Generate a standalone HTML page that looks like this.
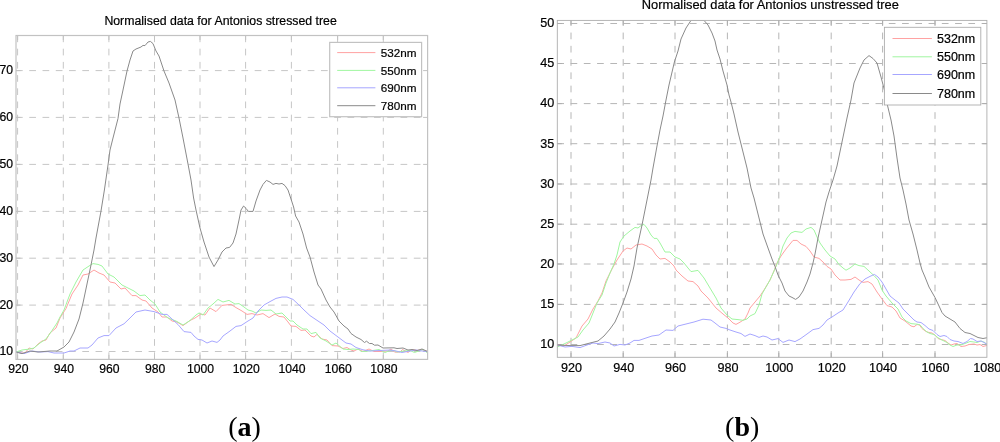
<!DOCTYPE html>
<html lang="en"><head><meta charset="utf-8"><title>Normalised data for Antonios stressed and unstressed tree</title>
<style>html,body{margin:0;padding:0;background:#fff;}body{width:1000px;height:442px;overflow:hidden;position:relative;}svg{position:absolute;left:0;top:0;display:block;}text{font-family:"Liberation Sans",Arial,sans-serif;fill:#000;stroke:#000;stroke-width:0.2px;}.L .t{font-size:12.2px;}.R .t{font-size:12.6px;}.L .lg{font-size:11.7px;}.R .lg{font-size:12.5px;}.L .ttl{font-size:12.3px;}.R .ttl{font-size:12.85px;}.cap{font-family:"Liberation Serif","Times New Roman",serif;font-size:28px;fill:#000;stroke:none;}.g{stroke-width:1;fill:none;}.bx{fill:none;}.c{fill:none;stroke-width:1;stroke-linejoin:round;stroke-linecap:round;}</style></head><body>
<svg width="1000" height="442" viewBox="0 0 1000 442">
<rect x="0" y="0" width="1000" height="442" fill="#fff"/>
<g class="L">
<clipPath id="cl"><rect x="16" y="35.5" width="411.6" height="323.9"/></clipPath>
<g>
<line class="g" stroke="#c6c6c6" stroke-dasharray="6.7 6.5" stroke-dashoffset="0.00" x1="17.6" y1="35.5" x2="17.6" y2="359.4"/>
<line class="g" stroke="#c6c6c6" stroke-dasharray="6.7 6.5" stroke-dashoffset="0.00" x1="63.3" y1="35.5" x2="63.3" y2="359.4"/>
<line class="g" stroke="#c6c6c6" stroke-dasharray="6.7 6.5" stroke-dashoffset="0.00" x1="108.9" y1="35.5" x2="108.9" y2="359.4"/>
<line class="g" stroke="#c6c6c6" stroke-dasharray="6.7 6.5" stroke-dashoffset="0.00" x1="154.5" y1="35.5" x2="154.5" y2="359.4"/>
<line class="g" stroke="#c6c6c6" stroke-dasharray="6.7 6.5" stroke-dashoffset="0.00" x1="200" y1="35.5" x2="200" y2="359.4"/>
<line class="g" stroke="#c6c6c6" stroke-dasharray="6.7 6.5" stroke-dashoffset="0.00" x1="245.6" y1="35.5" x2="245.6" y2="359.4"/>
<line class="g" stroke="#c6c6c6" stroke-dasharray="6.7 6.5" stroke-dashoffset="0.00" x1="291.4" y1="35.5" x2="291.4" y2="359.4"/>
<line class="g" stroke="#c6c6c6" stroke-dasharray="6.7 6.5" stroke-dashoffset="0.00" x1="337.6" y1="35.5" x2="337.6" y2="359.4"/>
<line class="g" stroke="#c6c6c6" stroke-dasharray="6.7 6.5" stroke-dashoffset="0.00" x1="383.3" y1="35.5" x2="383.3" y2="359.4"/>
<line class="g" stroke="#c6c6c6" stroke-dasharray="6.7 6.56" x1="16" y1="70.6" x2="427.6" y2="70.6"/>
<line class="g" stroke="#c6c6c6" stroke-dasharray="6.7 6.56" x1="16" y1="117.4" x2="427.6" y2="117.4"/>
<line class="g" stroke="#c6c6c6" stroke-dasharray="6.7 6.56" x1="16" y1="164.4" x2="427.6" y2="164.4"/>
<line class="g" stroke="#c6c6c6" stroke-dasharray="6.7 6.56" x1="16" y1="211.4" x2="427.6" y2="211.4"/>
<line class="g" stroke="#c6c6c6" stroke-dasharray="6.7 6.56" x1="16" y1="258.2" x2="427.6" y2="258.2"/>
<line class="g" stroke="#c6c6c6" stroke-dasharray="6.7 6.56" x1="16" y1="305.1" x2="427.6" y2="305.1"/>
<line class="g" stroke="#c6c6c6" stroke-dasharray="6.7 6.56" x1="16" y1="351.5" x2="427.6" y2="351.5"/>
<line stroke="#c2c2c2" stroke-width="1" x1="17.6" y1="354.9" x2="17.6" y2="359.4"/>
<line stroke="#c2c2c2" stroke-width="1" x1="17.6" y1="35.5" x2="17.6" y2="40.0"/>
<line stroke="#c2c2c2" stroke-width="1" x1="63.3" y1="354.9" x2="63.3" y2="359.4"/>
<line stroke="#c2c2c2" stroke-width="1" x1="63.3" y1="35.5" x2="63.3" y2="40.0"/>
<line stroke="#c2c2c2" stroke-width="1" x1="108.9" y1="354.9" x2="108.9" y2="359.4"/>
<line stroke="#c2c2c2" stroke-width="1" x1="108.9" y1="35.5" x2="108.9" y2="40.0"/>
<line stroke="#c2c2c2" stroke-width="1" x1="154.5" y1="354.9" x2="154.5" y2="359.4"/>
<line stroke="#c2c2c2" stroke-width="1" x1="154.5" y1="35.5" x2="154.5" y2="40.0"/>
<line stroke="#c2c2c2" stroke-width="1" x1="200" y1="354.9" x2="200" y2="359.4"/>
<line stroke="#c2c2c2" stroke-width="1" x1="200" y1="35.5" x2="200" y2="40.0"/>
<line stroke="#c2c2c2" stroke-width="1" x1="245.6" y1="354.9" x2="245.6" y2="359.4"/>
<line stroke="#c2c2c2" stroke-width="1" x1="245.6" y1="35.5" x2="245.6" y2="40.0"/>
<line stroke="#c2c2c2" stroke-width="1" x1="291.4" y1="354.9" x2="291.4" y2="359.4"/>
<line stroke="#c2c2c2" stroke-width="1" x1="291.4" y1="35.5" x2="291.4" y2="40.0"/>
<line stroke="#c2c2c2" stroke-width="1" x1="337.6" y1="354.9" x2="337.6" y2="359.4"/>
<line stroke="#c2c2c2" stroke-width="1" x1="337.6" y1="35.5" x2="337.6" y2="40.0"/>
<line stroke="#c2c2c2" stroke-width="1" x1="383.3" y1="354.9" x2="383.3" y2="359.4"/>
<line stroke="#c2c2c2" stroke-width="1" x1="383.3" y1="35.5" x2="383.3" y2="40.0"/>
<line stroke="#c2c2c2" stroke-width="1" x1="423.1" y1="70.6" x2="427.6" y2="70.6"/>
<line stroke="#c2c2c2" stroke-width="1" x1="16" y1="70.6" x2="20.5" y2="70.6"/>
<line stroke="#c2c2c2" stroke-width="1" x1="423.1" y1="117.4" x2="427.6" y2="117.4"/>
<line stroke="#c2c2c2" stroke-width="1" x1="16" y1="117.4" x2="20.5" y2="117.4"/>
<line stroke="#c2c2c2" stroke-width="1" x1="423.1" y1="164.4" x2="427.6" y2="164.4"/>
<line stroke="#c2c2c2" stroke-width="1" x1="16" y1="164.4" x2="20.5" y2="164.4"/>
<line stroke="#c2c2c2" stroke-width="1" x1="423.1" y1="211.4" x2="427.6" y2="211.4"/>
<line stroke="#c2c2c2" stroke-width="1" x1="16" y1="211.4" x2="20.5" y2="211.4"/>
<line stroke="#c2c2c2" stroke-width="1" x1="423.1" y1="258.2" x2="427.6" y2="258.2"/>
<line stroke="#c2c2c2" stroke-width="1" x1="16" y1="258.2" x2="20.5" y2="258.2"/>
<line stroke="#c2c2c2" stroke-width="1" x1="423.1" y1="305.1" x2="427.6" y2="305.1"/>
<line stroke="#c2c2c2" stroke-width="1" x1="16" y1="305.1" x2="20.5" y2="305.1"/>
<line stroke="#c2c2c2" stroke-width="1" x1="423.1" y1="351.5" x2="427.6" y2="351.5"/>
<line stroke="#c2c2c2" stroke-width="1" x1="16" y1="351.5" x2="20.5" y2="351.5"/>
</g>
<g clip-path="url(#cl)">
<path class="c" stroke="#ffa2a2" d="M16.0,352.0 L21.0,353.0 L25.0,353.0 L29.0,348.0 L33.0,349.0 L38.0,344.0 L42.0,341.0 L46.0,340.0 L50.0,333.0 L56.0,328.0 L60.0,318.0 L66.0,308.5 L72.0,294.0 L78.0,285.0 L83.0,275.0 L88.0,274.0 L94.0,270.0 L99.0,273.0 L104.0,275.0 L110.0,282.0 L115.0,283.0 L121.0,289.0 L125.0,288.0 L132.0,295.6 L136.0,295.6 L142.0,300.0 L146.0,301.0 L152.0,308.0 L158.0,312.0 L162.0,317.0 L167.0,317.0 L172.0,321.0 L177.0,322.0 L183.0,325.6 L190.0,320.5 L195.0,318.0 L201.0,314.0 L205.0,315.0 L210.0,308.0 L216.0,311.6 L222.0,305.4 L231.0,304.4 L236.0,307.6 L242.0,311.0 L247.0,314.4 L252.0,313.6 L257.0,315.0 L263.0,313.6 L269.0,317.6 L275.0,314.0 L279.0,316.4 L284.0,317.0 L288.0,322.0 L291.0,326.0 L296.0,326.4 L301.0,330.4 L305.0,330.0 L311.0,336.0 L314.0,337.0 L317.0,334.4 L322.0,339.0 L327.0,340.0 L332.0,345.6 L338.0,346.0 L343.0,348.5 L347.0,347.5 L351.0,350.0 L354.0,351.0 L358.0,349.0 L363.0,351.5 L369.0,349.0 L374.0,351.5 L382.0,351.5 L388.0,351.0 L391.0,349.0 L395.0,352.2 L400.0,352.0 L402.5,349.5 L408.0,352.5 L412.0,349.5 L417.0,350.5 L422.0,349.5 L427.5,351.5"/>
<path class="c" stroke="#a0f6a0" d="M16.0,352.0 L22.0,350.0 L30.0,349.0 L34.0,348.0 L40.0,343.0 L46.0,339.0 L52.0,330.5 L57.0,323.0 L60.0,317.0 L64.0,310.0 L70.0,294.0 L76.0,282.0 L83.0,270.0 L89.0,266.0 L93.0,263.6 L98.0,264.4 L102.0,266.0 L108.0,274.0 L114.0,277.0 L122.0,285.0 L128.0,288.0 L134.0,291.0 L140.0,295.6 L145.0,295.0 L150.0,300.0 L155.0,304.0 L160.0,312.0 L168.0,318.0 L176.0,321.0 L183.0,325.0 L190.0,320.5 L196.0,315.0 L199.0,313.0 L203.0,315.0 L208.0,308.0 L213.0,304.0 L218.0,299.4 L223.0,302.0 L229.0,300.4 L235.0,304.0 L239.0,303.6 L244.0,307.0 L248.0,310.0 L252.0,311.0 L256.0,313.0 L261.0,310.0 L266.0,310.4 L271.0,310.0 L276.0,314.0 L282.0,313.0 L286.0,317.0 L290.0,321.0 L293.0,321.0 L297.0,325.0 L303.0,329.0 L307.0,329.0 L311.0,333.6 L316.0,332.4 L320.0,338.0 L326.0,341.0 L332.0,345.0 L336.0,343.0 L339.0,345.6 L343.0,349.0 L348.0,349.5 L353.0,349.0 L359.0,349.5 L361.5,351.5 L368.0,351.0 L373.0,350.5 L379.0,349.5 L385.0,352.5 L390.0,350.5 L394.0,350.5 L397.0,352.0 L404.0,351.0 L410.0,350.5 L414.5,352.5 L420.0,350.5 L423.0,349.5 L427.5,353.0"/>
<path class="c" stroke="#a6a6ff" d="M16.0,352.0 L24.0,353.6 L32.0,351.0 L40.0,352.0 L48.0,351.6 L54.0,353.0 L64.0,353.0 L70.0,351.0 L74.0,351.0 L80.0,348.0 L88.0,348.0 L92.0,345.0 L98.0,338.0 L104.0,335.6 L109.0,335.6 L116.0,328.0 L124.0,323.8 L130.0,318.0 L136.0,312.0 L145.0,310.0 L154.0,311.6 L162.0,314.4 L167.0,314.4 L172.0,319.0 L178.0,324.5 L184.0,331.6 L191.0,332.4 L194.0,336.0 L198.0,339.4 L202.0,340.0 L207.0,343.0 L212.0,341.0 L217.0,342.4 L220.0,340.0 L223.0,336.0 L230.0,331.0 L236.0,326.4 L241.0,325.6 L248.0,321.0 L253.0,318.0 L258.0,311.0 L264.0,305.0 L270.0,301.6 L276.0,298.4 L282.0,297.0 L287.0,297.0 L293.0,299.4 L299.0,305.0 L304.0,310.0 L310.0,315.6 L318.0,321.0 L324.0,325.0 L330.0,331.0 L338.0,337.0 L346.0,343.0 L351.0,344.0 L356.0,347.5 L363.0,349.8 L370.0,351.0 L380.0,350.5 L390.0,350.0 L396.0,351.0 L402.0,352.5 L410.0,351.0 L416.0,350.0 L422.0,351.0 L427.5,351.5"/>
<path class="c" stroke="#8a8a8a" d="M16.0,352.0 L22.0,353.6 L30.0,351.0 L38.0,352.0 L50.0,351.0 L57.0,351.0 L64.0,347.0 L69.0,342.0 L74.0,332.0 L79.0,319.0 L83.0,303.0 L87.0,284.0 L91.0,265.0 L94.0,250.0 L96.0,238.0 L101.0,211.0 L104.4,190.0 L108.0,165.0 L110.0,150.0 L113.0,138.0 L118.0,118.5 L120.0,104.0 L123.0,90.0 L127.0,71.0 L130.0,60.0 L133.0,51.0 L136.0,49.0 L141.0,47.0 L143.0,45.4 L145.0,45.6 L148.0,42.0 L150.4,41.4 L153.0,43.6 L156.0,51.0 L159.0,56.0 L164.0,71.0 L169.0,83.0 L175.0,100.0 L179.0,118.0 L183.0,138.0 L188.0,164.0 L191.0,180.0 L193.6,198.0 L196.0,210.0 L200.0,228.0 L204.0,242.0 L209.0,257.0 L214.0,266.6 L218.0,260.0 L222.0,252.0 L226.0,248.0 L229.6,247.4 L233.0,243.0 L236.0,234.0 L239.0,220.0 L241.0,210.0 L243.6,206.0 L246.0,208.4 L248.4,211.4 L253.0,211.4 L256.0,201.0 L260.0,190.0 L263.0,184.4 L266.4,180.4 L270.0,182.0 L273.0,184.4 L276.0,183.4 L279.0,184.0 L282.0,183.4 L285.0,185.6 L288.0,190.0 L291.0,199.0 L293.6,207.0 L295.6,216.0 L299.0,222.0 L303.0,234.0 L306.6,248.0 L310.0,257.0 L314.0,272.0 L318.0,285.0 L321.0,289.0 L326.0,300.0 L330.0,307.0 L334.0,312.0 L339.0,321.0 L344.0,326.0 L348.0,329.0 L351.0,333.5 L356.0,337.0 L361.0,339.5 L364.5,342.5 L366.5,341.2 L369.5,343.5 L372.0,343.5 L374.5,345.2 L378.0,345.0 L383.0,348.0 L394.0,347.8 L397.0,348.5 L403.0,348.0 L408.0,350.0 L412.0,349.5 L417.0,350.5 L422.0,349.0 L427.5,351.5"/>
</g>
<rect class="bx" stroke="#c2c2c2" stroke-width="1.2" x="16" y="35.5" width="411.6" height="323.9"/>
<rect x="329.7" y="42.4" width="91.90000000000003" height="74.30000000000001" fill="#fff" stroke="#c2c2c2" stroke-width="1.2"/>
<line x1="337.2" y1="52.6" x2="375.4" y2="52.6" stroke="#ffa2a2" stroke-width="1"/>
<text class="t lg" x="380.8" y="56.800000000000004">532nm</text>
<line x1="337.2" y1="70.4" x2="375.4" y2="70.4" stroke="#a0f6a0" stroke-width="1"/>
<text class="t lg" x="380.8" y="74.60000000000001">550nm</text>
<line x1="337.2" y1="87.8" x2="375.4" y2="87.8" stroke="#a6a6ff" stroke-width="1"/>
<text class="t lg" x="380.8" y="92.0">690nm</text>
<line x1="337.2" y1="105.7" x2="375.4" y2="105.7" stroke="#8a8a8a" stroke-width="1"/>
<text class="t lg" x="380.8" y="109.9">780nm</text>
<text class="ttl" x="220.6" y="24.9" text-anchor="middle">Normalised data for Antonios stressed tree</text>
<text class="t" x="18.4" y="373.3" text-anchor="middle">920</text>
<text class="t" x="63.9" y="373.3" text-anchor="middle">940</text>
<text class="t" x="109.4" y="373.3" text-anchor="middle">960</text>
<text class="t" x="155.2" y="373.3" text-anchor="middle">980</text>
<text class="t" x="200.5" y="373.3" text-anchor="middle">1000</text>
<text class="t" x="246.2" y="373.3" text-anchor="middle">1020</text>
<text class="t" x="292" y="373.3" text-anchor="middle">1040</text>
<text class="t" x="338.2" y="373.3" text-anchor="middle">1060</text>
<text class="t" x="383.9" y="373.3" text-anchor="middle">1080</text>
<text class="t" x="13" y="74.19999999999999" text-anchor="end">70</text>
<text class="t" x="13" y="121.0" text-anchor="end">60</text>
<text class="t" x="13" y="168.0" text-anchor="end">50</text>
<text class="t" x="13" y="215.0" text-anchor="end">40</text>
<text class="t" x="13" y="261.8" text-anchor="end">30</text>
<text class="t" x="13" y="308.70000000000005" text-anchor="end">20</text>
<text class="t" x="13" y="355.1" text-anchor="end">10</text>
<text class="cap" x="244.6" y="436" text-anchor="middle">(<tspan font-weight="bold">a</tspan>)</text>
</g>
<g class="R">
<clipPath id="cr"><rect x="557.3" y="20.4" width="429.6" height="336.90000000000003"/></clipPath>
<g>
<line class="g" stroke="#b6b6b6" stroke-dasharray="6.7 6.57" stroke-dashoffset="1.10" x1="571" y1="20.4" x2="571" y2="357.3"/>
<line class="g" stroke="#b6b6b6" stroke-dasharray="6.7 6.57" stroke-dashoffset="1.10" x1="623.2" y1="20.4" x2="623.2" y2="357.3"/>
<line class="g" stroke="#b6b6b6" stroke-dasharray="6.7 6.57" stroke-dashoffset="1.10" x1="675" y1="20.4" x2="675" y2="357.3"/>
<line class="g" stroke="#b6b6b6" stroke-dasharray="6.7 6.57" stroke-dashoffset="1.10" x1="727.4" y1="20.4" x2="727.4" y2="357.3"/>
<line class="g" stroke="#b6b6b6" stroke-dasharray="6.7 6.57" stroke-dashoffset="1.10" x1="778.8" y1="20.4" x2="778.8" y2="357.3"/>
<line class="g" stroke="#b6b6b6" stroke-dasharray="6.7 6.57" stroke-dashoffset="1.10" x1="831.2" y1="20.4" x2="831.2" y2="357.3"/>
<line class="g" stroke="#b6b6b6" stroke-dasharray="6.7 6.57" stroke-dashoffset="1.10" x1="882.6" y1="20.4" x2="882.6" y2="357.3"/>
<line class="g" stroke="#b6b6b6" stroke-dasharray="6.7 6.57" stroke-dashoffset="1.10" x1="935" y1="20.4" x2="935" y2="357.3"/>
<line class="g" stroke="#b6b6b6" stroke-dasharray="6.7 6.56" x1="557.3" y1="23.5" x2="986.9" y2="23.5"/>
<line class="g" stroke="#b6b6b6" stroke-dasharray="6.7 6.56" x1="557.3" y1="63.5" x2="986.9" y2="63.5"/>
<line class="g" stroke="#b6b6b6" stroke-dasharray="6.7 6.56" x1="557.3" y1="103.6" x2="986.9" y2="103.6"/>
<line class="g" stroke="#b6b6b6" stroke-dasharray="6.7 6.56" x1="557.3" y1="143.7" x2="986.9" y2="143.7"/>
<line class="g" stroke="#b6b6b6" stroke-dasharray="6.7 6.56" x1="557.3" y1="184" x2="986.9" y2="184"/>
<line class="g" stroke="#b6b6b6" stroke-dasharray="6.7 6.56" x1="557.3" y1="224.2" x2="986.9" y2="224.2"/>
<line class="g" stroke="#b6b6b6" stroke-dasharray="6.7 6.56" x1="557.3" y1="264" x2="986.9" y2="264"/>
<line class="g" stroke="#b6b6b6" stroke-dasharray="6.7 6.56" x1="557.3" y1="304.4" x2="986.9" y2="304.4"/>
<line class="g" stroke="#b6b6b6" stroke-dasharray="6.7 6.56" x1="557.3" y1="344.5" x2="986.9" y2="344.5"/>
<line stroke="#adadad" stroke-width="1" x1="571" y1="352.8" x2="571" y2="357.3"/>
<line stroke="#adadad" stroke-width="1" x1="571" y1="20.4" x2="571" y2="24.9"/>
<line stroke="#adadad" stroke-width="1" x1="623.2" y1="352.8" x2="623.2" y2="357.3"/>
<line stroke="#adadad" stroke-width="1" x1="623.2" y1="20.4" x2="623.2" y2="24.9"/>
<line stroke="#adadad" stroke-width="1" x1="675" y1="352.8" x2="675" y2="357.3"/>
<line stroke="#adadad" stroke-width="1" x1="675" y1="20.4" x2="675" y2="24.9"/>
<line stroke="#adadad" stroke-width="1" x1="727.4" y1="352.8" x2="727.4" y2="357.3"/>
<line stroke="#adadad" stroke-width="1" x1="727.4" y1="20.4" x2="727.4" y2="24.9"/>
<line stroke="#adadad" stroke-width="1" x1="778.8" y1="352.8" x2="778.8" y2="357.3"/>
<line stroke="#adadad" stroke-width="1" x1="778.8" y1="20.4" x2="778.8" y2="24.9"/>
<line stroke="#adadad" stroke-width="1" x1="831.2" y1="352.8" x2="831.2" y2="357.3"/>
<line stroke="#adadad" stroke-width="1" x1="831.2" y1="20.4" x2="831.2" y2="24.9"/>
<line stroke="#adadad" stroke-width="1" x1="882.6" y1="352.8" x2="882.6" y2="357.3"/>
<line stroke="#adadad" stroke-width="1" x1="882.6" y1="20.4" x2="882.6" y2="24.9"/>
<line stroke="#adadad" stroke-width="1" x1="935" y1="352.8" x2="935" y2="357.3"/>
<line stroke="#adadad" stroke-width="1" x1="935" y1="20.4" x2="935" y2="24.9"/>
<line stroke="#adadad" stroke-width="1" x1="982.4" y1="23.5" x2="986.9" y2="23.5"/>
<line stroke="#adadad" stroke-width="1" x1="557.3" y1="23.5" x2="561.8" y2="23.5"/>
<line stroke="#adadad" stroke-width="1" x1="982.4" y1="63.5" x2="986.9" y2="63.5"/>
<line stroke="#adadad" stroke-width="1" x1="557.3" y1="63.5" x2="561.8" y2="63.5"/>
<line stroke="#adadad" stroke-width="1" x1="982.4" y1="103.6" x2="986.9" y2="103.6"/>
<line stroke="#adadad" stroke-width="1" x1="557.3" y1="103.6" x2="561.8" y2="103.6"/>
<line stroke="#adadad" stroke-width="1" x1="982.4" y1="143.7" x2="986.9" y2="143.7"/>
<line stroke="#adadad" stroke-width="1" x1="557.3" y1="143.7" x2="561.8" y2="143.7"/>
<line stroke="#adadad" stroke-width="1" x1="982.4" y1="184" x2="986.9" y2="184"/>
<line stroke="#adadad" stroke-width="1" x1="557.3" y1="184" x2="561.8" y2="184"/>
<line stroke="#adadad" stroke-width="1" x1="982.4" y1="224.2" x2="986.9" y2="224.2"/>
<line stroke="#adadad" stroke-width="1" x1="557.3" y1="224.2" x2="561.8" y2="224.2"/>
<line stroke="#adadad" stroke-width="1" x1="982.4" y1="264" x2="986.9" y2="264"/>
<line stroke="#adadad" stroke-width="1" x1="557.3" y1="264" x2="561.8" y2="264"/>
<line stroke="#adadad" stroke-width="1" x1="982.4" y1="304.4" x2="986.9" y2="304.4"/>
<line stroke="#adadad" stroke-width="1" x1="557.3" y1="304.4" x2="561.8" y2="304.4"/>
<line stroke="#adadad" stroke-width="1" x1="982.4" y1="344.5" x2="986.9" y2="344.5"/>
<line stroke="#adadad" stroke-width="1" x1="557.3" y1="344.5" x2="561.8" y2="344.5"/>
</g>
<g clip-path="url(#cr)">
<path class="c" stroke="#ffa2a2" d="M557.5,345.0 L564.0,346.0 L570.0,342.0 L576.0,338.0 L582.0,326.0 L588.0,319.0 L593.0,309.0 L598.0,301.0 L602.0,293.0 L606.0,281.0 L612.0,269.0 L617.0,260.0 L623.0,251.0 L627.0,248.0 L631.0,249.0 L636.0,245.0 L642.0,244.0 L647.0,246.0 L652.0,249.0 L656.0,255.0 L660.0,259.0 L665.0,258.4 L670.0,262.0 L674.0,266.0 L676.0,270.0 L682.0,276.0 L688.0,281.0 L693.0,281.6 L698.0,286.0 L701.0,291.0 L708.0,298.0 L716.0,308.0 L723.0,314.0 L728.0,318.0 L733.0,323.0 L736.0,324.4 L740.0,322.2 L745.0,319.0 L748.0,313.0 L750.0,308.0 L755.0,302.0 L760.0,296.0 L764.0,290.0 L770.0,280.0 L774.0,271.0 L777.0,263.0 L781.0,256.0 L786.0,249.0 L790.0,244.0 L793.0,240.4 L797.0,240.4 L801.0,244.0 L806.0,246.4 L810.0,251.0 L814.0,257.0 L819.0,258.4 L823.0,262.0 L827.0,266.4 L831.0,269.0 L835.0,275.0 L840.0,280.0 L845.0,280.0 L851.0,279.4 L855.0,277.0 L859.0,280.0 L863.0,282.4 L868.0,281.6 L872.0,284.0 L877.0,292.0 L882.0,299.0 L887.0,305.6 L892.0,307.0 L896.0,311.0 L900.0,318.0 L905.0,321.0 L908.0,323.5 L911.0,326.0 L914.0,326.8 L917.0,324.5 L919.5,325.0 L922.0,328.5 L926.0,331.5 L929.0,332.5 L932.0,333.0 L935.0,335.0 L938.0,338.5 L941.0,339.5 L945.0,340.5 L948.0,343.0 L951.0,345.0 L954.0,344.0 L957.0,343.5 L961.0,346.5 L965.0,346.0 L969.0,344.5 L974.0,344.0 L977.0,345.0 L980.0,344.5 L983.0,346.5 L986.7,345.5"/>
<path class="c" stroke="#a0f6a0" d="M557.5,347.0 L566.0,343.0 L572.0,340.0 L578.0,337.0 L583.0,330.0 L589.0,323.0 L593.0,313.0 L597.0,303.0 L602.0,295.0 L606.0,283.0 L610.0,273.0 L614.0,264.0 L617.0,255.0 L620.0,242.0 L624.0,236.0 L630.0,231.0 L635.0,227.4 L638.0,228.0 L641.0,225.6 L644.0,224.4 L647.0,228.0 L651.0,235.0 L654.0,238.4 L657.0,238.4 L660.0,243.0 L665.0,252.0 L670.0,252.0 L675.0,257.0 L680.0,259.0 L684.0,263.0 L688.0,268.0 L691.0,271.6 L698.0,270.4 L704.0,278.0 L710.0,288.0 L716.0,298.0 L721.0,308.0 L727.0,315.0 L732.0,319.0 L738.0,319.6 L743.0,320.3 L747.0,319.0 L750.0,316.0 L755.0,313.6 L759.0,305.0 L762.0,294.0 L766.0,287.0 L770.0,280.0 L774.0,271.0 L777.0,264.0 L780.0,256.0 L783.0,246.0 L787.0,238.0 L791.0,233.0 L795.0,231.4 L799.0,232.0 L802.0,232.4 L806.0,229.0 L811.0,227.4 L814.0,230.0 L817.0,237.0 L820.0,243.0 L825.0,250.0 L830.0,256.0 L835.0,259.0 L839.0,264.5 L843.0,268.0 L846.0,270.2 L850.0,268.0 L855.0,264.0 L859.0,265.6 L864.0,266.4 L869.0,271.0 L874.0,275.6 L878.0,280.0 L882.0,290.0 L886.0,296.0 L892.0,303.0 L898.0,309.0 L902.0,317.0 L906.0,321.0 L911.0,323.6 L917.0,324.2 L920.0,324.8 L923.0,328.5 L927.0,332.0 L930.0,333.5 L934.0,334.5 L937.0,337.0 L940.0,339.0 L944.0,341.0 L947.0,342.5 L950.0,345.0 L953.0,346.5 L957.0,345.0 L961.0,345.0 L965.0,343.5 L970.0,341.5 L974.0,342.0 L977.0,342.5 L981.0,341.0 L985.0,342.5 L986.7,344.5"/>
<path class="c" stroke="#a6a6ff" d="M557.5,345.0 L565.0,347.0 L572.0,346.4 L580.0,347.6 L587.0,345.0 L593.0,343.0 L598.0,343.6 L605.0,342.0 L610.0,343.0 L614.0,346.0 L620.0,344.4 L625.0,345.0 L630.0,343.0 L634.0,340.4 L639.0,340.4 L646.0,338.0 L652.0,336.0 L659.0,335.0 L666.0,330.0 L673.0,330.4 L678.0,326.0 L686.0,324.0 L694.0,322.0 L703.0,319.2 L711.0,320.0 L715.0,323.0 L720.0,327.0 L726.0,328.4 L730.0,330.0 L736.0,332.0 L741.0,333.5 L745.0,336.4 L750.0,334.0 L755.0,335.6 L759.0,337.4 L763.0,336.0 L767.0,337.0 L772.0,340.0 L778.0,338.6 L783.0,342.4 L789.0,340.0 L795.0,341.6 L800.0,339.0 L807.0,334.0 L813.0,329.6 L819.0,328.4 L823.0,325.0 L827.0,320.0 L832.0,317.0 L838.0,313.0 L843.0,310.0 L848.0,302.0 L854.0,292.0 L860.0,283.6 L865.0,279.0 L870.0,276.4 L874.4,274.4 L878.0,277.0 L882.0,282.0 L886.0,289.0 L890.0,296.0 L895.0,300.0 L899.0,303.0 L903.0,309.0 L908.0,314.0 L914.0,320.0 L917.0,322.0 L921.0,322.5 L925.0,325.5 L929.0,329.0 L933.0,330.5 L937.0,334.5 L940.0,336.5 L944.0,335.5 L947.0,336.5 L950.0,339.5 L954.0,341.0 L958.0,341.5 L963.0,343.5 L967.0,341.5 L970.5,338.5 L973.0,339.0 L977.0,341.5 L981.0,341.0 L984.0,342.5 L986.7,344.0"/>
<path class="c" stroke="#8a8a8a" d="M557.5,345.0 L570.0,345.6 L580.0,345.6 L590.0,343.0 L598.0,341.0 L604.0,336.0 L610.0,329.0 L615.0,322.0 L619.0,313.0 L623.0,303.0 L627.0,292.0 L631.0,279.0 L634.0,266.0 L637.0,248.0 L642.0,225.0 L647.0,200.0 L651.0,180.0 L653.0,168.0 L657.0,146.0 L660.0,130.0 L663.0,116.0 L666.0,100.0 L669.0,85.0 L674.4,62.0 L678.0,51.0 L681.0,39.0 L686.0,28.0 L691.0,20.4 L704.0,20.4 L708.0,25.0 L712.0,33.0 L715.0,41.0 L717.0,50.0 L720.0,59.0 L723.0,71.0 L727.0,85.0 L729.0,95.0 L731.0,102.0 L734.0,114.0 L738.0,132.0 L742.0,148.0 L747.0,168.0 L751.0,188.0 L754.0,198.0 L759.0,218.0 L763.0,234.0 L768.0,248.0 L772.0,259.0 L775.0,266.5 L778.0,275.0 L782.0,283.0 L785.0,291.0 L789.0,296.0 L792.0,297.4 L795.6,299.4 L799.0,297.0 L803.0,291.0 L807.0,282.0 L810.0,274.0 L813.0,263.0 L815.0,254.0 L818.0,238.0 L822.0,220.0 L826.0,202.0 L829.0,192.0 L833.0,180.0 L837.0,166.0 L842.0,142.0 L847.0,118.0 L851.0,100.0 L854.0,83.0 L860.0,68.0 L864.0,60.0 L869.0,55.6 L873.0,58.5 L877.0,63.0 L881.0,77.0 L884.4,90.0 L887.4,105.0 L891.0,120.0 L894.0,136.0 L897.0,158.0 L900.0,178.0 L903.0,190.0 L906.0,204.0 L909.0,220.0 L913.0,234.0 L917.0,250.0 L920.0,263.0 L922.0,270.0 L925.0,277.0 L929.0,287.0 L933.0,294.0 L935.0,297.5 L939.0,306.0 L942.0,312.5 L945.0,316.0 L950.0,319.0 L955.0,322.0 L960.0,328.5 L965.0,332.5 L970.0,333.5 L974.0,335.5 L978.0,337.5 L983.0,338.5 L986.7,337.8"/>
</g>
<rect class="bx" stroke="#adadad" stroke-width="0.9" x="557.3" y="20.4" width="429.6" height="336.9"/>
<rect x="884.4" y="27.3" width="96.39999999999998" height="77.7" fill="#fff" stroke="#adadad" stroke-width="0.9"/>
<line x1="892.5" y1="38.5" x2="931.9" y2="38.5" stroke="#ffa2a2" stroke-width="1"/>
<text class="t lg" x="937" y="42.7">532nm</text>
<line x1="892.5" y1="56.8" x2="931.9" y2="56.8" stroke="#a0f6a0" stroke-width="1"/>
<text class="t lg" x="937" y="61.0">550nm</text>
<line x1="892.5" y1="74.5" x2="931.9" y2="74.5" stroke="#a6a6ff" stroke-width="1"/>
<text class="t lg" x="937" y="78.7">690nm</text>
<line x1="892.5" y1="93.5" x2="931.9" y2="93.5" stroke="#8a8a8a" stroke-width="1"/>
<text class="t lg" x="937" y="97.7">780nm</text>
<text class="ttl" x="770.3" y="9.3" text-anchor="middle">Normalised data for Antonios unstressed tree</text>
<text class="t" x="571.5" y="372.4" text-anchor="middle">920</text>
<text class="t" x="623.7" y="372.4" text-anchor="middle">940</text>
<text class="t" x="675.5" y="372.4" text-anchor="middle">960</text>
<text class="t" x="727.9" y="372.4" text-anchor="middle">980</text>
<text class="t" x="779.3" y="372.4" text-anchor="middle">1000</text>
<text class="t" x="831.7" y="372.4" text-anchor="middle">1020</text>
<text class="t" x="883.1" y="372.4" text-anchor="middle">1040</text>
<text class="t" x="935.6" y="372.4" text-anchor="middle">1060</text>
<text class="t" x="987.2" y="372.4" text-anchor="middle">1080</text>
<text class="t" x="554.3" y="27.3" text-anchor="end">50</text>
<text class="t" x="554.3" y="67.3" text-anchor="end">45</text>
<text class="t" x="554.3" y="107.39999999999999" text-anchor="end">40</text>
<text class="t" x="554.3" y="147.5" text-anchor="end">35</text>
<text class="t" x="554.3" y="187.8" text-anchor="end">30</text>
<text class="t" x="554.3" y="228.0" text-anchor="end">25</text>
<text class="t" x="554.3" y="267.8" text-anchor="end">20</text>
<text class="t" x="554.3" y="308.2" text-anchor="end">15</text>
<text class="t" x="554.3" y="348.3" text-anchor="end">10</text>
<text class="cap" x="742.2" y="436" text-anchor="middle">(<tspan font-weight="bold">b</tspan>)</text>
</g>
</svg></body></html>
